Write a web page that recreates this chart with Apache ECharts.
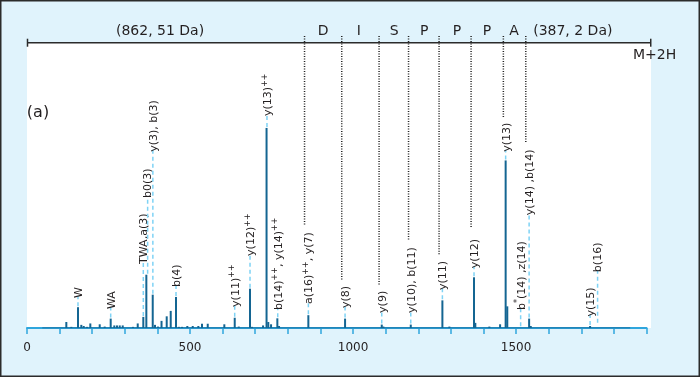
<!DOCTYPE html>
<html>
<head>
<meta charset="utf-8">
<script src="https://cdn.jsdelivr.net/npm/echarts@6/dist/echarts.min.js"></script>
<style>
    html, body {margin: 0; padding: 0; background: #e0f3fc;}
    #spectrum {width: 700px; height: 377px;}
</style>
</head>
<body>
<div id="spectrum"></div>
<script>
"use strict"
const backColor = '#e0f3fc';
const peakColor = '#146592';
const axisColor = '#2fa6dd';
const font = '"DejaVu Sans", sans-serif';

// peaks: m/z and relative intensity
const peakMz = [120.6, 135.9, 156.4, 166.6, 173.9, 184, 194.2, 223, 238.3, 256.7, 267.8, 276, 284.4, 293.6,
    325, 339.6, 356.7, 366, 385.6, 392.6, 401.8, 412.6, 428.5, 440.8, 457, 466, 475.5, 491.7, 508.3, 525.5,
    536.8, 554.3, 605.2, 637.1, 649.4, 684, 690, 724, 734.7, 740, 748.5, 767.8, 773, 862.9, 975.5, 1088,
    1093, 1177, 1274, 1295.4, 1371, 1375, 1418, 1451, 1468, 1473, 1540, 1545, 1727];
const peakInt = [2.1, 0.4, 7.3, 1.1, 0.7, 0.4, 1.6, 1.3, 0.5, 3.3, 0.9, 0.9, 0.9, 0.9,
    0.4, 1.6, 3.9, 18.7, 11.7, 1.1, 0.5, 2.5, 4.1, 6, 10.9, 0.4, 0.4, 0.7, 0.7, 0.7,
    1.5, 1.5, 1.3, 3.6, 0.5, 13.8, 0.4, 0.9, 70.2, 2.1, 1.3, 3.4, 0.7, 4.5, 3.3, 1.2,
    0.5, 1.2, 9.7, 0.5, 17.8, 1.8, 0.5, 1.3, 58.8, 7.6, 3.3, 0.7, 0.7];
const baseMz = [47, 1850];

// fragment labels ("^" toggles superscript)
const labelText = ['W', 'WA', 'TWA,a(3)', 'b0(3)', 'y(3), b(3)', 'b(4)', 'y(11)^++', 'y(12)^++', 'y(13)^++',
    'b(14)^++^, y(14)^++', 'a(16)^++^, y(7)', 'y(8)', 'y(9)', 'y(10), b(11)', 'y(11)', 'y(12)', 'y(13)',
    'b^*^(14) ,z(14)', 'y(14) ,b(14)', 'y(15)', 'b(16)'];
const labelMz = [156.4, 256.7, 356.7, 370, 386, 457, 637, 684, 736, 769, 863, 975.5, 1088, 1177, 1274, 1371, 1468,
    1514, 1540, 1727, 1750];
const labelPeak = [7.3, 3.3, 3.9, 18.7, 11.7, 10.9, 3.6, 13.8, 70.2, 3.4, 4.5, 3.3, 1.2, 1.2, 9.7, 17.8, 58.8,
    0.3, 3.3, 0.7, 1.5];
const labelStart = [10.5, 6.7, 22.5, 45.6, 61.8, 14.4, 7.4, 25.3, 74.4, 6.3, 8.4, 7, 5.3, 5.3, 13.3, 21, 61.8,
    6.3, 39.6, 4, 19.6];

// residue cut lines
const cutMz = [851.2, 965.3, 1079.8, 1170.2, 1263.8, 1362, 1461, 1529.8];
const cutEnd = [35.9, 16.8, 14.8, 30.6, 25.4, 35, 73.8, 65];

// sequence texts above the bracket
const topText = ['(862, 51 Da)', 'D', 'I', 'S', 'P', 'P', 'P', 'A', '(387, 2 Da)', 'M+2H'];
const topMz = [408, 908, 1018, 1126, 1218, 1319, 1411, 1494, 1674, 1925];
const topY = [104.2, 104.2, 104.2, 104.2, 104.2, 104.2, 104.2, 104.2, 104.2, 95.6];
const precursorMz = 1913;
const tickLabels = [0, 500, 1000, 1500];

function toRich(str) {
    return str.split('^').map(function (part, i) {
        if (part === '') return '';
        return (i % 2 ? '{s|' : '{n|') + part + '}';
    }).join('');
}

let chart = echarts.init(document.getElementById('spectrum'));

let option = {
    backgroundColor: backColor,
    animation: false,
    graphic: [
        {type: 'rect', z: -10, shape: {x: 27, y: 43, width: 624, height: 285}, style: {fill: '#ffffff'}},
        {type: 'rect', z: 100, shape: {x: 0.75, y: 0.75, width: 698.5, height: 375.5},
            style: {fill: 'none', stroke: '#2b2b2b', lineWidth: 1.5}}
    ],
    grid: {left: 27, right: 53.5, top: 43, bottom: 49},
    xAxis: {
        type: 'value', min: 0, max: 1900, interval: 100,
        axisLine: {lineStyle: {color: axisColor, width: 2}},
        axisTick: {length: 6, lineStyle: {color: axisColor, width: 1.5}},
        axisLabel: {
            margin: 14, color: '#231f20', fontFamily: font, fontSize: 12, showMinLabel: true,
            formatter: function (v) { return tickLabels.indexOf(v) >= 0 ? String(v) : ''; }
        },
        splitLine: {show: false}
    },
    yAxis: {type: 'value', min: 0, max: 100, show: false},
    series: [
        {
            type: 'line', z: 2, symbol: 'none', silent: true,
            lineStyle: {color: peakColor, width: 1},
            data: baseMz.map(function (m) { return [m, 0]; })
        },
        {
            type: 'bar', z: 3, barWidth: 2, silent: true,
            itemStyle: {color: peakColor},
            data: peakMz.map(function (m, i) { return [m, peakInt[i]]; })
        },
        {
            // fragment labels with dashed leaders
            type: 'custom', z: 4, clip: false, silent: true,
            data: labelText.map(function (t, i) { return [labelMz[i], labelPeak[i], labelStart[i], i]; }),
            renderItem: function (params, api) {
                let i = api.value(3);
                let low = api.coord([api.value(0), api.value(1)]);
                let high = api.coord([api.value(0), api.value(2)]);
                return {
                    type: 'group',
                    children: [
                        {type: 'line', shape: {x1: low[0], y1: low[1] - 1, x2: high[0], y2: high[1] - 2},
                            style: {stroke: '#7fd3f5', lineWidth: 1.5, lineDash: [4, 3]}},
                        {type: 'text', x: high[0], y: high[1], rotation: Math.PI / 2,
                            style: {
                                text: toRich(labelText[i]), align: 'left', verticalAlign: 'middle',
                                fill: '#231f20',
                                rich: {
                                    n: {fontFamily: font, fontSize: 11, lineHeight: 13, verticalAlign: 'bottom', fill: '#231f20'},
                                    s: {fontFamily: font, fontSize: 8, lineHeight: 13, verticalAlign: 'top', fill: '#231f20'}
                                }
                            }}
                    ]
                };
            }
        },
        {
            // residue cut lines
            type: 'custom', z: 4, clip: false, silent: true,
            data: cutMz.map(function (m, i) { return [m, cutEnd[i]]; }),
            renderItem: function (params, api) {
                let a = api.coord([api.value(0), 102.5]);
                let b = api.coord([api.value(0), api.value(1)]);
                return {type: 'line', shape: {x1: a[0], y1: a[1], x2: b[0], y2: b[1]},
                    style: {stroke: '#222', lineWidth: 1.5, lineDash: [1, 1.5]}};
            }
        },
        {
            // precursor bracket
            type: 'custom', z: 5, clip: false, silent: true,
            data: [[0, precursorMz]],
            renderItem: function (params, api) {
                let a = api.coord([api.value(0), 100.1]);
                let b = api.coord([api.value(1), 100.1]);
                let st = {stroke: '#2b2b2b', lineWidth: 1.5};
                return {type: 'group', children: [
                    {type: 'line', shape: {x1: a[0], y1: a[1], x2: b[0], y2: b[1]}, style: st},
                    {type: 'line', shape: {x1: a[0] + 0.5, y1: a[1] - 4, x2: a[0] + 0.5, y2: a[1] + 4}, style: st},
                    {type: 'line', shape: {x1: b[0], y1: b[1] - 4, x2: b[0], y2: b[1] + 4}, style: st}
                ]};
            }
        },
        {
            type: 'custom', z: 5, clip: false, silent: true,
            data: topText.map(function (t, i) { return [topMz[i], topY[i], i]; }),
            renderItem: function (params, api) {
                let p = api.coord([api.value(0), api.value(1)]);
                return {type: 'text', x: p[0], y: p[1],
                    style: {text: topText[api.value(2)], align: 'center', verticalAlign: 'middle',
                        fontFamily: font, fontSize: 14, fill: '#231f20'}};
            }
        },
        {
            // panel tag
            type: 'custom', z: 5, clip: false, silent: true,
            data: [[33.7, 75.4]],
            renderItem: function (params, api) {
                let p = api.coord([api.value(0), api.value(1)]);
                return {type: 'text', x: p[0], y: p[1],
                    style: {text: '(a)', align: 'center', verticalAlign: 'middle',
                        fontFamily: font, fontSize: 16, fill: '#231f20'}};
            }
        }
    ]
};
chart.setOption(option);
</script>
</body>
</html>
